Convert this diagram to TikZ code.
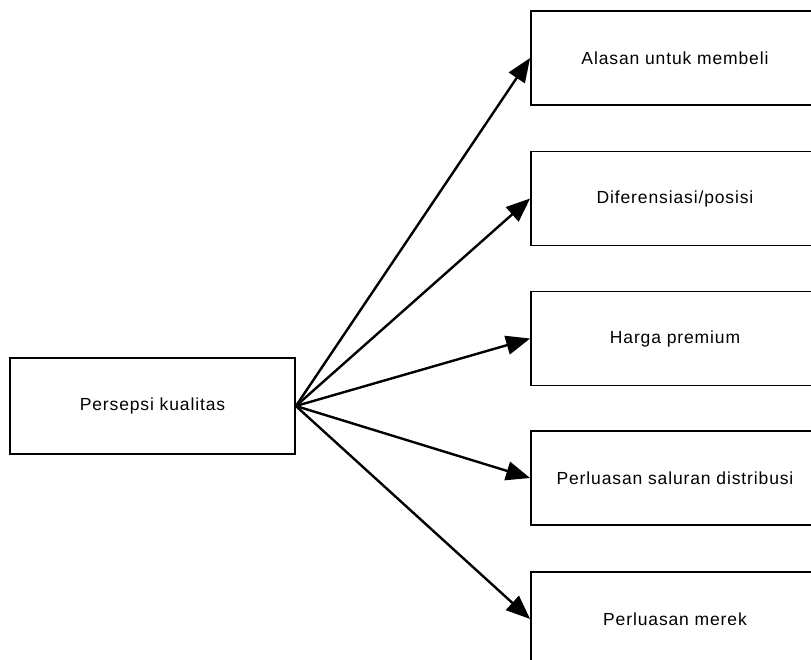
\documentclass[tikz,border=0pt]{standalone}
\usepackage{fontspec}
\setmainfont{Liberation Sans}[LetterSpace=5]
\usepackage{tikz}
\usetikzlibrary{arrows.meta}

\begin{document}
\begin{tikzpicture}[x=1pt, y=-1pt,
    kotak/.style={draw, line width=1.8pt, minimum width=288pt, minimum height=94pt, inner sep=0pt, font=\fontsize{17.5}{20}\selectfont},
    panah/.style={-{Triangle[length=24pt,width=19pt]}, line width=2.4pt}]
    \clip (0,0) rectangle (811,659);
    \node[kotak, minimum width=285pt, minimum height=96pt] (persepsi) at (152.5,406) {Persepsi kualitas};
    \node[kotak] (alasan) at (675,58) {Alasan untuk membeli};
    \node[kotak] (diferensiasi) at (675,198.5) {Diferensiasi/posisi};
    \node[kotak] (harga) at (675,338.5) {Harga premium};
    \node[kotak] (saluran) at (675,478) {Perluasan saluran distribusi};
    \node[kotak] (merek) at (675,619) {Perluasan merek};
    \foreach \n in {alasan,diferensiasi,harga,saluran,merek}
      \draw[panah] (persepsi.east) -- (\n.west);
\end{tikzpicture}
\end{document}
